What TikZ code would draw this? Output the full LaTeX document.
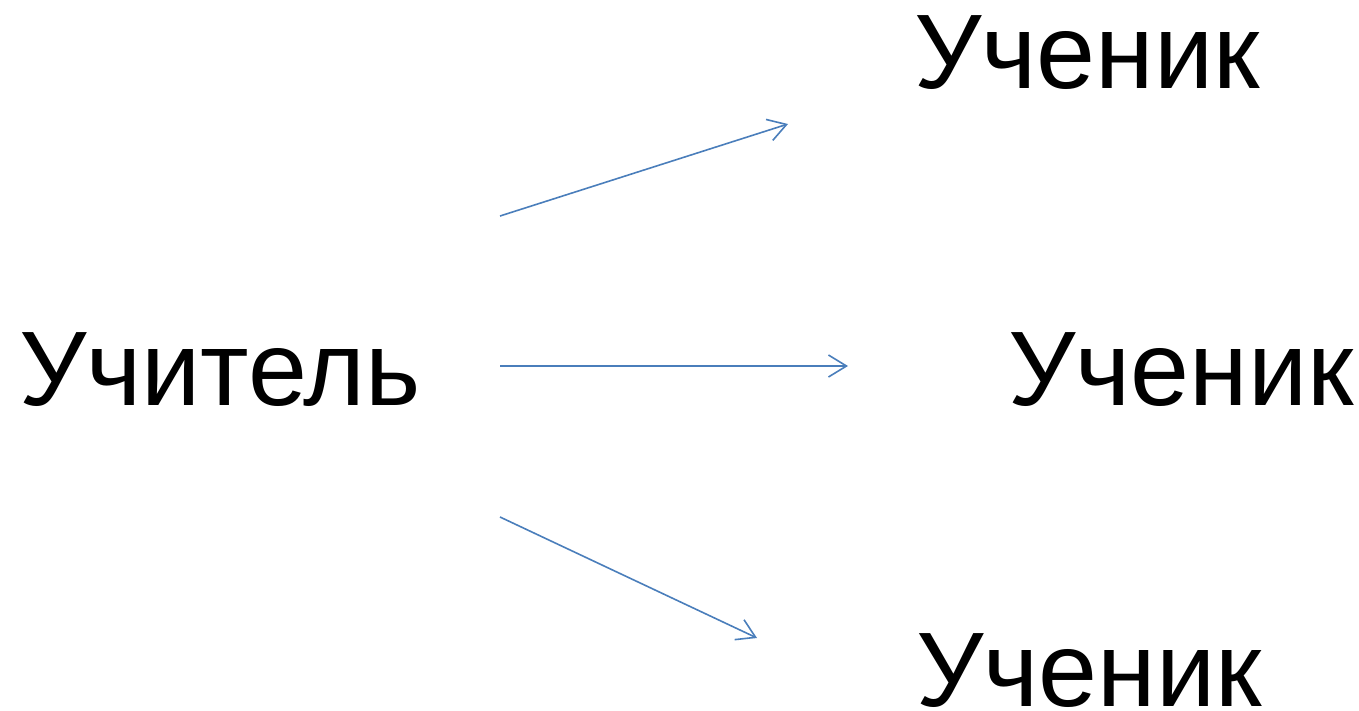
\documentclass[tikz,border=0pt]{standalone}
\usepackage{fontspec}
\setmainfont{Liberation Sans}
\usetikzlibrary{arrows.meta}
\definecolor{arrowblue}{HTML}{4A7EBB}
\tikzset{
  word/.style={inner sep=0pt, anchor=base west, font=\fontsize{106}{122}\selectfont},
  link/.style={draw=arrowblue, line width=1.6pt, -{Straight Barb[length=18pt,width=22pt,line width=1.6pt]}}
}
\begin{document}
\begin{tikzpicture}[x=1pt,y=-1pt]
\useasboundingbox (0,0) rectangle (1359,710);
\node[word] (t) at (19,405) {Учитель};
\node[word] (s1) at (914,88) {Ученик};
\node[word] (s2) at (1008,405) {Ученик};
\node[word] (s3) at (916,706) {Ученик};
\coordinate (a1) at (500,216);
\coordinate (a2) at (500,366);
\coordinate (a3) at (500,517);
\coordinate (b1) at (788,124);
\coordinate (b2) at (848,366);
\coordinate (b3) at (757,638);
\draw[link] (a1) -- (b1);
\draw[link] (a2) -- (b2);
\draw[link] (a3) -- (b3);
\end{tikzpicture}
\end{document}
